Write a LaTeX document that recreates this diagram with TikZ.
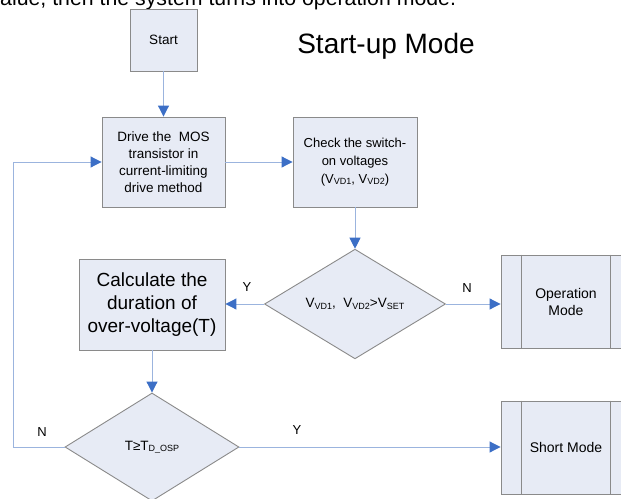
\documentclass[tikz,border=0pt]{standalone}
\usepackage{fontspec}
\setmainfont{Liberation Sans}
\usetikzlibrary{arrows.meta,shapes.geometric}
\definecolor{boxfill}{HTML}{E7EBF5}
\definecolor{boxline}{HTML}{8A8A8A}
\definecolor{connblue}{HTML}{9BB4DE}
\definecolor{tipblue}{HTML}{3C6FC6}
\newcommand{\sbs}[1]{\raisebox{-1.3pt}{\fontsize{9}{9}\selectfont #1}}
\begin{document}
\begin{tikzpicture}[x=1pt,y=-1pt,
  box/.style={draw=boxline,fill=boxfill,line width=0.9pt,inner sep=2pt,align=center,font=\fontsize{13.5}{17}\selectfont},
  dec/.style={diamond,draw=boxline,fill=boxfill,line width=0.9pt,inner sep=0pt,align=center,font=\fontsize{13.5}{17}\selectfont},
  conn/.style={draw=connblue,line width=1pt,-{Triangle[length=11pt,width=11pt,color=tipblue]}},
  lab/.style={font=\fontsize{13}{15}\selectfont}]
\useasboundingbox (0,0) rectangle (621,498);
\clip (0,0) rectangle (621,498);
\node[anchor=base west,inner sep=0pt,font=\fontsize{21.3}{24}\selectfont] (top) at (0,5.5) {alue, then the system turns into operation mode.};
\node[anchor=base,font=\fontsize{28}{30}\selectfont] (title) at (386,53) {Start-up Mode};
\node[box,minimum width=67pt,minimum height=62pt] (start) at (163.5,40) {Start};
\node[box,minimum width=123pt,minimum height=90pt] (drive) at (163.5,162) {Drive the\ \ MOS\\transistor in\\current-limiting\\drive method};
\node[box,minimum width=124pt,minimum height=90pt,font=\fontsize{13}{18}\selectfont] (check) at (355,162) {Check the switch-\\on voltages\\(V\sbs{VD1}, V\sbs{VD2})};
\node[dec,minimum width=181pt,minimum height=99pt] (d1) at (355,304) {V\sbs{VD1},\ \ V\sbs{VD2}>V\sbs{SET}};
\node[box,minimum width=146pt,minimum height=91pt,font=\fontsize{19}{23}\selectfont] (calc) at (152,304.5) {Calculate the\\duration of\\over-voltage(T)};
\node[dec,minimum width=174pt,minimum height=108pt] (d2) at (152,447) {T≥T\sbs{D\_OSP}};
\node[box,minimum width=130pt,minimum height=93pt,font=\fontsize{14}{17}\selectfont] (op) at (566,301.5) {Operation\\Mode};
\node[box,minimum width=130pt,minimum height=93pt,font=\fontsize{14}{17}\selectfont] (short) at (566,447.5) {Short Mode};
\foreach \b in {op,short}{
  \draw[draw=boxline,line width=0.9pt] ([xshift=21pt]\b.north west) -- ([xshift=21pt]\b.south west)
    ([xshift=-21pt]\b.north east) -- ([xshift=-21pt]\b.south east);
}
\draw[conn] (start) -- (drive);
\draw[conn] (drive) -- (check);
\draw[conn] (check) -- (d1);
\draw[conn] (d1.west) -- (calc.east |- d1.west);
\draw[conn] (d1.east) -- (op.west |- d1.east);
\draw[conn] (calc) -- (d2);
\draw[conn] (d2.east) -- (short.west |- d2.east);
\coordinate (fb) at (13,447);
\draw[conn] (d2.west) -- (fb) |- (drive.west);
\node[lab] (y1) at (247,287) {Y};
\node[lab] (n1) at (467,288) {N};
\node[lab] (n2) at (42,432) {N};
\node[lab] (y2) at (297,430) {Y};
\end{tikzpicture}
\end{document}
